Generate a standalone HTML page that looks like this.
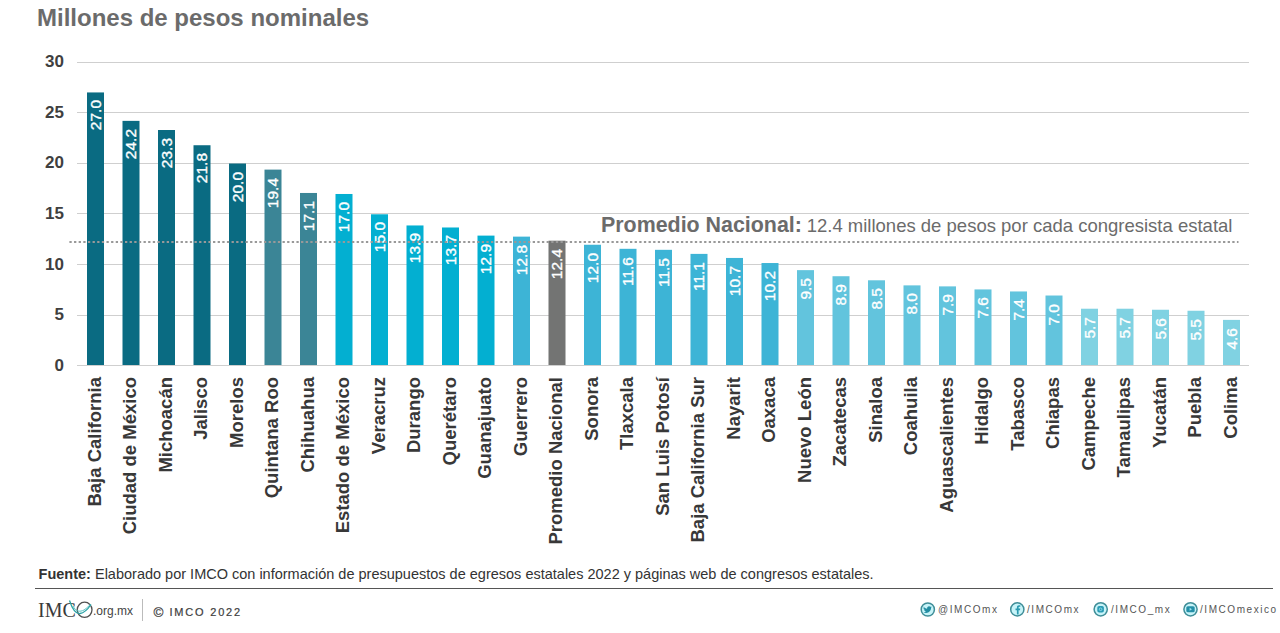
<!DOCTYPE html>
<html><head><meta charset="utf-8">
<style>
html,body{margin:0;padding:0;background:#fff;}
body{width:1280px;height:633px;position:relative;overflow:hidden;font-family:"Liberation Sans",sans-serif;}
.t{position:absolute;left:37px;top:5px;font-size:24px;font-weight:bold;color:#6b6b6b;white-space:nowrap;line-height:26px;}
.g{position:absolute;left:77px;width:1172px;height:1px;background:#cfcfcf;}
.yl{position:absolute;left:20px;width:44px;text-align:right;font-size:17px;font-weight:bold;color:#3f3f3f;line-height:20px;}
.vl{position:absolute;-webkit-text-stroke:0.35px #fff;width:100px;height:16px;line-height:16px;font-size:15.5px;color:#fff;text-align:right;transform:rotate(-90deg);transform-origin:0 0;white-space:nowrap;}
.lb{position:absolute;width:200px;height:20px;line-height:20px;font-size:18.5px;font-weight:bold;color:#383838;text-align:right;transform:rotate(-90deg);transform-origin:0 0;white-space:nowrap;}
.pn{position:absolute;left:601px;top:213px;font-size:21.4px;font-weight:bold;color:#6b6b6b;white-space:nowrap;line-height:24px;}
.pn2{position:absolute;left:806.7px;top:214px;font-size:18.5px;color:#6b6b6b;white-space:nowrap;line-height:24px;}
.src{position:absolute;left:38.6px;top:565px;font-size:14.5px;color:#333;white-space:nowrap;line-height:18px;}
.hr{position:absolute;left:35px;top:588px;width:1238px;height:1px;background:#555;}
.sep{position:absolute;left:142px;top:599px;width:1px;height:22px;background:#bbb;}
.logo{position:absolute;left:38px;top:598px;font-family:"Liberation Serif",serif;font-size:20px;color:#3a3a3a;white-space:nowrap;line-height:24px;}
.org{position:absolute;left:93px;top:603px;font-size:12px;color:#444;line-height:16px;}
.copy{position:absolute;left:153.5px;top:604px;font-size:11px;color:#3d3d3d;letter-spacing:1.8px;-webkit-text-stroke:0.2px #3d3d3d;line-height:16px;white-space:nowrap;}
.soc{position:absolute;top:602.5px;font-size:10px;color:#555;letter-spacing:1.55px;line-height:14px;white-space:nowrap;}
</style></head><body>
<div class="t">Millones de pesos nominales</div>
<div class="g" style="top:365px"></div>
<div class="yl" style="top:355.90px">0</div>
<div class="g" style="top:315px"></div>
<div class="yl" style="top:305.27px">5</div>
<div class="g" style="top:264px"></div>
<div class="yl" style="top:254.64px">10</div>
<div class="g" style="top:213px"></div>
<div class="yl" style="top:204.01px">15</div>
<div class="g" style="top:163px"></div>
<div class="yl" style="top:153.38px">20</div>
<div class="g" style="top:112px"></div>
<div class="yl" style="top:102.75px">25</div>
<div class="g" style="top:62px"></div>
<div class="yl" style="top:52.12px">30</div><svg style="position:absolute;left:0;top:0" width="1280" height="400"><rect x="87.00" y="92.44" width="17" height="272.56" fill="#0a6b82"/><rect x="122.50" y="120.87" width="17" height="244.13" fill="#0a6b82"/><rect x="158.00" y="130.01" width="17" height="234.99" fill="#0a6b82"/><rect x="193.50" y="145.24" width="17" height="219.76" fill="#0a6b82"/><rect x="229.00" y="163.52" width="17" height="201.48" fill="#0a6b82"/><rect x="264.50" y="169.61" width="17" height="195.39" fill="#3b8596"/><rect x="300.00" y="192.97" width="17" height="172.03" fill="#3b8596"/><rect x="335.50" y="193.98" width="17" height="171.02" fill="#03afd1"/><rect x="371.00" y="214.29" width="17" height="150.71" fill="#03afd1"/><rect x="406.50" y="225.46" width="17" height="139.54" fill="#03afd1"/><rect x="442.00" y="227.49" width="17" height="137.51" fill="#03afd1"/><rect x="477.50" y="235.61" width="17" height="129.39" fill="#03afd1"/><rect x="513.00" y="236.63" width="17" height="128.37" fill="#3db4d6"/><rect x="548.50" y="240.69" width="17" height="124.31" fill="#737473"/><rect x="584.00" y="244.75" width="17" height="120.25" fill="#3db4d6"/><rect x="619.50" y="248.81" width="17" height="116.19" fill="#3db4d6"/><rect x="655.00" y="249.83" width="17" height="115.17" fill="#3db4d6"/><rect x="690.50" y="253.89" width="17" height="111.11" fill="#3db4d6"/><rect x="726.00" y="257.95" width="17" height="107.05" fill="#3db4d6"/><rect x="761.50" y="263.03" width="17" height="101.97" fill="#3db4d6"/><rect x="797.00" y="270.14" width="17" height="94.86" fill="#62c4dd"/><rect x="832.50" y="276.23" width="17" height="88.77" fill="#62c4dd"/><rect x="868.00" y="280.29" width="17" height="84.71" fill="#62c4dd"/><rect x="903.50" y="285.37" width="17" height="79.63" fill="#62c4dd"/><rect x="939.00" y="286.38" width="17" height="78.62" fill="#62c4dd"/><rect x="974.50" y="289.43" width="17" height="75.57" fill="#62c4dd"/><rect x="1010.00" y="291.46" width="17" height="73.54" fill="#62c4dd"/><rect x="1045.50" y="295.52" width="17" height="69.48" fill="#62c4dd"/><rect x="1081.00" y="308.72" width="17" height="56.28" fill="#80d2e2"/><rect x="1116.50" y="308.72" width="17" height="56.28" fill="#80d2e2"/><rect x="1152.00" y="309.74" width="17" height="55.26" fill="#80d2e2"/><rect x="1187.50" y="310.75" width="17" height="54.25" fill="#80d2e2"/><rect x="1223.00" y="319.89" width="17" height="45.11" fill="#80d2e2"/></svg><div class="vl" style="left:87.50px;top:200.44px">27.0</div>
<div class="lb" style="left:84.70px;top:577.00px">Baja California</div>
<div class="vl" style="left:123.00px;top:228.87px">24.2</div>
<div class="lb" style="left:120.20px;top:577.00px">Ciudad de México</div>
<div class="vl" style="left:158.50px;top:238.01px">23.3</div>
<div class="lb" style="left:155.70px;top:577.00px">Michoacán</div>
<div class="vl" style="left:194.00px;top:253.24px">21.8</div>
<div class="lb" style="left:191.20px;top:577.00px">Jalisco</div>
<div class="vl" style="left:229.50px;top:271.52px">20.0</div>
<div class="lb" style="left:226.70px;top:577.00px">Morelos</div>
<div class="vl" style="left:265.00px;top:277.61px">19.4</div>
<div class="lb" style="left:262.20px;top:577.00px">Quintana Roo</div>
<div class="vl" style="left:300.50px;top:300.97px">17.1</div>
<div class="lb" style="left:297.70px;top:577.00px">Chihuahua</div>
<div class="vl" style="left:336.00px;top:301.98px">17.0</div>
<div class="lb" style="left:333.20px;top:577.00px">Estado de México</div>
<div class="vl" style="left:371.50px;top:322.29px">15.0</div>
<div class="lb" style="left:368.70px;top:577.00px">Veracruz</div>
<div class="vl" style="left:407.00px;top:333.46px">13.9</div>
<div class="lb" style="left:404.20px;top:577.00px">Durango</div>
<div class="vl" style="left:442.50px;top:335.49px">13.7</div>
<div class="lb" style="left:439.70px;top:577.00px">Querétaro</div>
<div class="vl" style="left:478.00px;top:343.61px">12.9</div>
<div class="lb" style="left:475.20px;top:577.00px">Guanajuato</div>
<div class="vl" style="left:513.50px;top:344.63px">12.8</div>
<div class="lb" style="left:510.70px;top:577.00px">Guerrero</div>
<div class="vl" style="left:549.00px;top:348.69px">12.4</div>
<div class="lb" style="left:546.20px;top:577.00px">Promedio Nacional</div>
<div class="vl" style="left:584.50px;top:352.75px">12.0</div>
<div class="lb" style="left:581.70px;top:577.00px">Sonora</div>
<div class="vl" style="left:620.00px;top:356.81px">11.6</div>
<div class="lb" style="left:617.20px;top:577.00px">Tlaxcala</div>
<div class="vl" style="left:655.50px;top:357.83px">11.5</div>
<div class="lb" style="left:652.70px;top:577.00px">San Luis Potosí</div>
<div class="vl" style="left:691.00px;top:361.89px">11.1</div>
<div class="lb" style="left:688.20px;top:577.00px">Baja California Sur</div>
<div class="vl" style="left:726.50px;top:365.95px">10.7</div>
<div class="lb" style="left:723.70px;top:577.00px">Nayarit</div>
<div class="vl" style="left:762.00px;top:371.03px">10.2</div>
<div class="lb" style="left:759.20px;top:577.00px">Oaxaca</div>
<div class="vl" style="left:797.50px;top:378.14px">9.5</div>
<div class="lb" style="left:794.70px;top:577.00px">Nuevo León</div>
<div class="vl" style="left:833.00px;top:384.23px">8.9</div>
<div class="lb" style="left:830.20px;top:577.00px">Zacatecas</div>
<div class="vl" style="left:868.50px;top:388.29px">8.5</div>
<div class="lb" style="left:865.70px;top:577.00px">Sinaloa</div>
<div class="vl" style="left:904.00px;top:393.37px">8.0</div>
<div class="lb" style="left:901.20px;top:577.00px">Coahuila</div>
<div class="vl" style="left:939.50px;top:394.38px">7.9</div>
<div class="lb" style="left:936.70px;top:577.00px">Aguascalientes</div>
<div class="vl" style="left:975.00px;top:397.43px">7.6</div>
<div class="lb" style="left:972.20px;top:577.00px">Hidalgo</div>
<div class="vl" style="left:1010.50px;top:399.46px">7.4</div>
<div class="lb" style="left:1007.70px;top:577.00px">Tabasco</div>
<div class="vl" style="left:1046.00px;top:403.52px">7.0</div>
<div class="lb" style="left:1043.20px;top:577.00px">Chiapas</div>
<div class="vl" style="left:1081.50px;top:416.72px">5.7</div>
<div class="lb" style="left:1078.70px;top:577.00px">Campeche</div>
<div class="vl" style="left:1117.00px;top:416.72px">5.7</div>
<div class="lb" style="left:1114.20px;top:577.00px">Tamaulipas</div>
<div class="vl" style="left:1152.50px;top:417.74px">5.6</div>
<div class="lb" style="left:1149.70px;top:577.00px">Yucatán</div>
<div class="vl" style="left:1188.00px;top:418.75px">5.5</div>
<div class="lb" style="left:1185.20px;top:577.00px">Puebla</div>
<div class="vl" style="left:1223.50px;top:427.89px">4.6</div>
<div class="lb" style="left:1220.70px;top:577.00px">Colima</div>
<svg style="position:absolute;left:0;top:230px" width="1280" height="24" viewBox="0 230 1280 24"><line x1="69.4" y1="242.1" x2="1238.5" y2="242.1" stroke="#999" stroke-width="2" stroke-dasharray="2.3 2.333"/></svg>
<div class="pn">Promedio Nacional:</div><div class="pn2">12.4 millones de pesos por cada congresista estatal</div>
<div class="src"><b>Fuente:</b> Elaborado por IMCO con información de presupuestos de egresos estatales 2022 y páginas web de congresos estatales.</div>
<div class="hr"></div>
<div class="logo">IMC</div>
<div class="org">.org.mx</div>
<div class="sep"></div>
<div class="copy"><span style="font-size:13.5px;letter-spacing:1.2px;position:relative;top:0.5px">©</span> IMCO 2022</div>
<div class="soc" style="left:938px">@IMCOmx</div>
<div class="soc" style="left:1027px">/IMCOmx</div>
<div class="soc" style="left:1111px">/IMCO_mx</div>
<div class="soc" style="left:1200px">/IMCOmexico</div>
<svg style="position:absolute;left:0;top:580px" width="1280" height="53" viewBox="0 580 1280 53">
<g stroke="#3f8e98" stroke-width="1.5" fill="#c8f4f9">
<circle cx="927.8" cy="609.5" r="6.6"/>
<circle cx="1017.3" cy="609.4" r="6.6"/>
<circle cx="1100.7" cy="609.3" r="6.6"/>
<circle cx="1190.5" cy="609.3" r="6.6"/>
</g>
<path d="M923.6 606.8c.9 1.1 2.1 1.8 3.5 1.9c-.2-1.4.8-2.5 2-2.5c.6 0 1.1.2 1.4.6l1-.4l-.5.9l.8-.2l-.7.7c0 2.7-2 5.2-5 5.2c-1 0-1.9-.3-2.7-.8c1 .1 1.9-.2 2.6-.8c-.9 0-1.6-.6-1.8-1.4h.8c-.9-.2-1.5-1-1.5-1.9l.8.2c-.8-.6-1-1.6-.6-2.3z" fill="#238ea3"/>
<path d="M1018.6 614.6v-4.4h1.4l.2-1.6h-1.6v-1c0-.5.2-.8.8-.8h.9v-1.5c-.2 0-.7-.1-1.3-.1c-1.3 0-2.1.8-2.1 2.2v1.2h-1.4v1.6h1.4v4.4z" fill="#2a9ab0"/>
<rect x="1097.3" y="606" width="6.6" height="6.6" rx="1.8" fill="#2a9cb5"/>
<circle cx="1100.6" cy="609.3" r="1.3" fill="none" stroke="#9fe6f2" stroke-width="0.8"/>
<rect x="1186.3" y="606.3" width="8.4" height="6" rx="1.5" fill="#2490a8"/>
<path d="M1189.6 607.8v3l2.4-1.5z" fill="#9fe6f2"/>
<ellipse cx="84.6" cy="609.8" rx="7.4" ry="7.6" fill="none" stroke="#505050" stroke-width="1.3"/>
<path d="M69.5 600.5C72 608 76 614 80 613.5C84 613 88 609 91 604.5" fill="none" stroke="#2ba3a6" stroke-width="1.3"/>
<path d="M73 606C76 612 80 612 84 610C87 608 89 606 90.5 604" fill="none" stroke="#48b9bb" stroke-width="0.9"/>
</svg>
</body></html>
